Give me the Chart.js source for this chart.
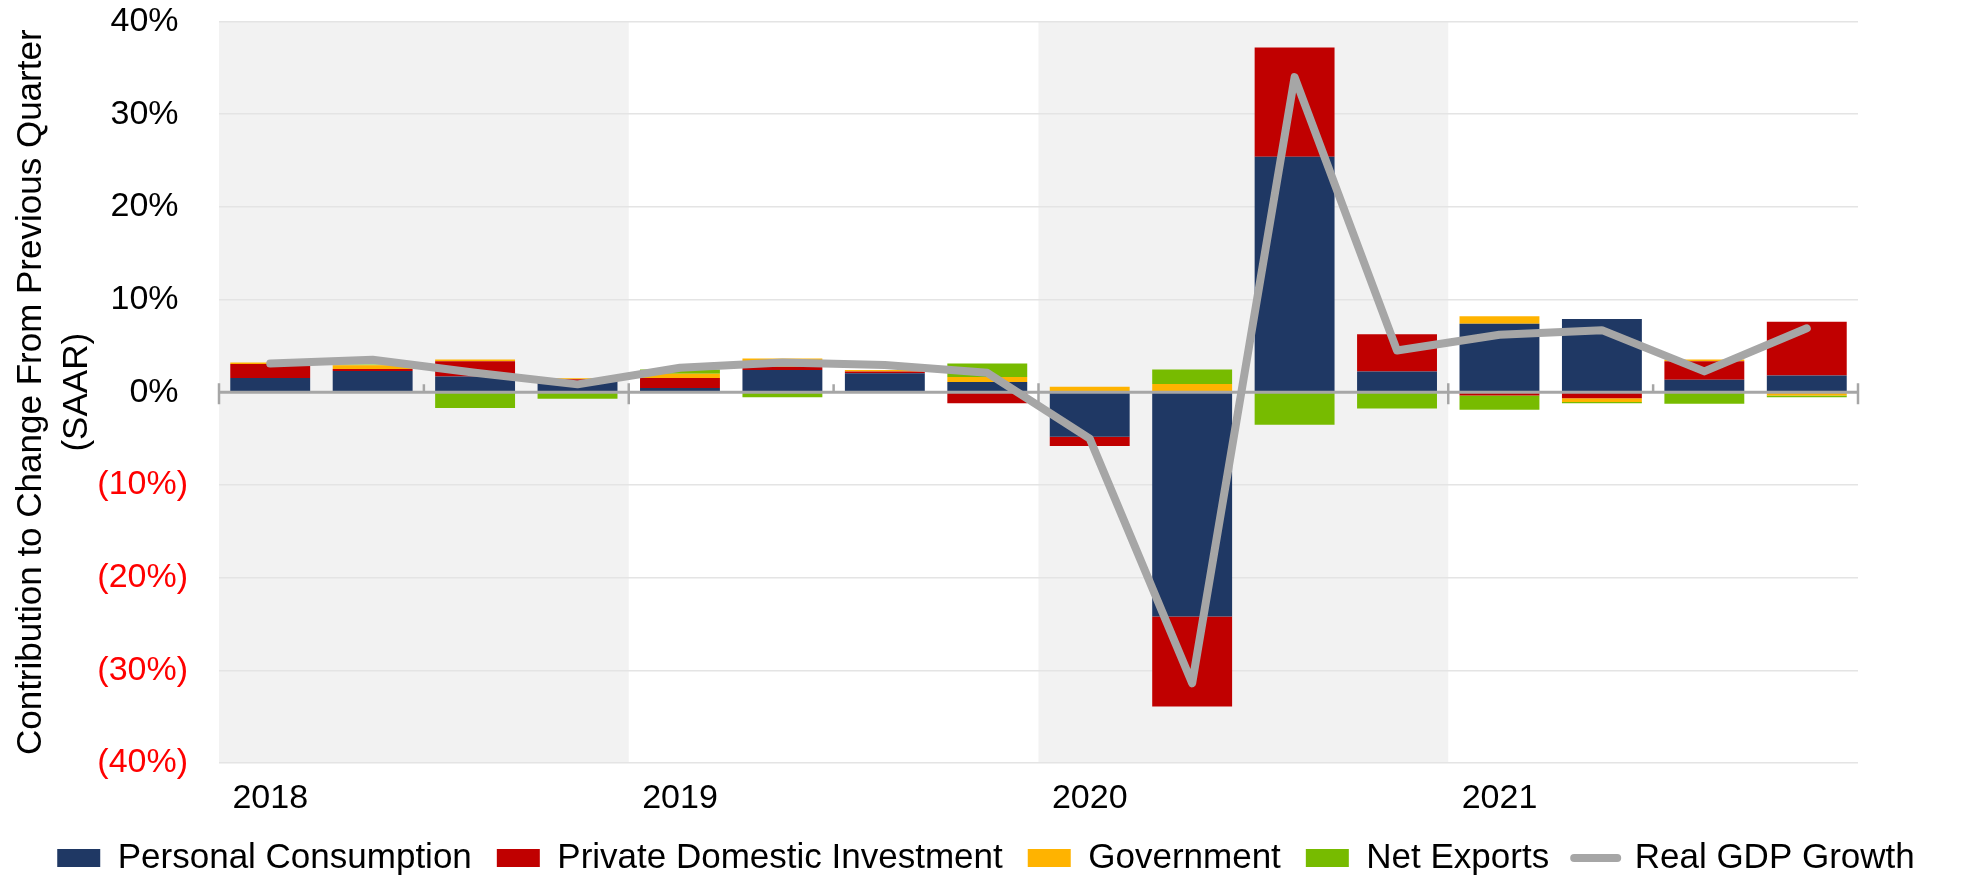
<!DOCTYPE html>
<html>
<head>
<meta charset="utf-8">
<script src="https://cdn.jsdelivr.net/npm/chart.js@4"></script>
<style>
  body { margin: 0; background: #fff; }
  #wrap { width: 1965px; height: 876px; }
</style>
</head>
<body>
<div id="wrap"><canvas id="gdp"></canvas></div>
<script>
const quarters = ['2018 Q1','2018 Q2','2018 Q3','2018 Q4','2019 Q1','2019 Q2','2019 Q3','2019 Q4',
                  '2020 Q1','2020 Q2','2020 Q3','2020 Q4','2021 Q1','2021 Q2','2021 Q3','2021 Q4'];
const years = ['2018','2019','2020','2021'];
const shadedYears = ['2018','2020'];

const consumption = [1.55, 2.3, 1.7, 1.1, 0.45, 2.4, 2.05, 1.1, -4.8, -24.2, 25.4, 2.25, 7.4, 7.9, 1.35, 1.8];
const investment  = [1.5, 0.2, 1.65, 0.3, 1.1, 0.35, 0.2, -1.2, -1.0, -9.7, 11.8, 4.0, -0.35, -0.65, 2.0, 5.8];
const government  = [0.15, 0.4, 0.18, 0.1, 0.45, 0.9, 0.15, 0.55, 0.6, 0.9, 0, 0, 0.8, -0.4, 0.18, -0.35];
const netExports  = [0, 0.1, -1.7, -0.7, 0.45, -0.55, 0, 1.45, 0, 1.55, -3.5, -1.75, -1.55, -0.15, -1.25, -0.2];
const gdpGrowth   = [3.1, 3.5, 2.1, 0.85, 2.65, 3.2, 2.95, 2.1, -5.0, -31.4, 34.0, 4.5, 6.2, 6.7, 2.25, 6.9];

const font = "'Liberation Sans', Arial, sans-serif";

// shading for alternate years + the zero axis with its little ticks
const bands = {
  id: 'bands',
  beforeDraw(chart) {
    const {ctx, chartArea: a, scales: {x}} = chart;
    const half = (x.getPixelForValue(1) - x.getPixelForValue(0)) / 2;
    ctx.save();
    ctx.fillStyle = '#F2F2F2';
    quarters.forEach((q, i) => {
      if (i % 4 === 0 && shadedYears.includes(q.slice(0, 4))) {
        const x0 = x.getPixelForValue(i) - half;
        const x1 = x.getPixelForValue(i + 3) + half;
        ctx.fillRect(x0, a.top, x1 - x0, a.bottom - a.top);
      }
    });
    ctx.restore();
  },
  beforeDatasetDraw(chart, args) {
    if (args.meta.type !== 'line') return;
    const {ctx, chartArea: a, scales: {x, y}} = chart;
    const y0 = y.getPixelForValue(0);
    const half = (x.getPixelForValue(1) - x.getPixelForValue(0)) / 2;
    ctx.save();
    ctx.strokeStyle = '#A6A6A6';
    ctx.lineWidth = 3;
    ctx.beginPath();
    ctx.moveTo(a.left, y0);
    ctx.lineTo(a.right, y0);
    ctx.stroke();
    ctx.lineWidth = 2.5;
    for (let i = 0; i <= quarters.length; i += 2) {
      const px = x.getPixelForValue(0) - half + i * half * 2;
      ctx.beginPath();
      if (i % 4 === 0) { ctx.moveTo(px, y0 - 9); ctx.lineTo(px, y0 + 12); }
      else { ctx.moveTo(px, y0 - 8); ctx.lineTo(px, y0); }
      ctx.stroke();
    }
    ctx.restore();
  }
};

function barSet(label, data, color) {
  return { type: 'bar', label: label, data: data, backgroundColor: color, borderWidth: 0,
           stack: 's', order: 1, categoryPercentage: 1, barPercentage: 0.78 };
}

new Chart(document.getElementById('gdp'), {
  data: {
    labels: quarters,
    datasets: [
      barSet('Personal Consumption', consumption, '#1F3864'),
      barSet('Private Domestic Investment', investment, '#C00000'),
      barSet('Government', government, '#FFB300'),
      barSet('Net Exports', netExports, '#77BB00'),
      {
        type: 'line', label: 'Real GDP Growth', data: gdpGrowth, order: 0,
        borderColor: '#A6A6A6', backgroundColor: '#A6A6A6', borderWidth: 8,
        borderCapStyle: 'round', borderJoinStyle: 'round', tension: 0,
        pointRadius: 0, pointHoverRadius: 0, fill: false
      }
    ]
  },
  options: {
    responsive: true,
    maintainAspectRatio: false,
    animation: false,
    layout: { padding: { top: 0, left: 7, right: 0, bottom: -9.5 } },
    plugins: {
      tooltip: { enabled: false },
      legend: {
        position: 'bottom',
        labels: {
          font: { family: font, size: 35 },
          color: '#000',
          usePointStyle: true,
          pointStyleWidth: 43,
          boxHeight: 18,
          padding: 25,
          sort: (a, b) => a.datasetIndex - b.datasetIndex,
          generateLabels: chart => Chart.defaults.plugins.legend.labels.generateLabels(chart).map(l => {
            if (l.datasetIndex === 4) {
              l.pointStyle = 'line'; l.lineWidth = 8; l.lineCap = 'round';
              l.strokeStyle = '#A6A6A6';
            } else {
              l.pointStyle = 'rect'; l.lineWidth = 0;
            }
            return l;
          })
        }
      }
    },
    scales: {
      x: {
        stacked: true,
        afterFit: s => { s.height = 52.5; },
        grid: { display: false, drawTicks: false },
        border: { display: false },
        ticks: {
          autoSkip: false, maxRotation: 0, padding: 27,
          color: '#000',
          font: { family: font, size: 34, lineHeight: 0.53 },
          callback: (v, i) => i % 4 === 0 ? years[i / 4] : ''
        }
      },
      y: {
        stacked: true,
        min: -40, max: 40,
        afterFit: s => { s.width = 212; s.paddingTop = 21.5; s.paddingBottom = 20; },
        border: { display: false },
        grid: {
          drawTicks: false,
          lineWidth: 1.5,
          color: c => c.tick.value === 0 ? 'rgba(0,0,0,0)' : '#E4E4E4'
        },
        ticks: {
          stepSize: 10,
          padding: 31,
          font: { family: font, size: 34 },
          color: c => c.tick.value < 0 ? '#FF0000' : '#000',
          callback: v => v < 0 ? '(' + (-v) + '%)' : v + '% '
        },
        title: {
          display: true,
          text: ['Contribution to Change From Previous Quarter', '(SAAR)'],
          color: '#000',
          font: { family: font, size: 35, lineHeight: 1.33 },
          padding: { top: 1, bottom: 0 }
        }
      },
      yRight: {
        position: 'right',
        display: true,
        min: -40, max: 40,
        afterFit: s => { s.width = 107; },
        grid: { display: false },
        border: { display: false },
        ticks: { display: false }
      }
    }
  },
  plugins: [bands]
});
</script>
</body>
</html>
